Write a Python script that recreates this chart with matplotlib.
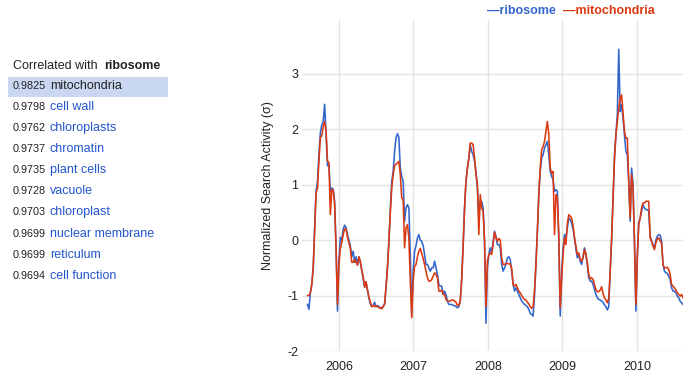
import numpy as np
import pandas as pd
import matplotlib
matplotlib.use('Agg')
import matplotlib.pyplot as plt
from matplotlib.patches import Rectangle

plt.rcParams['font.family'] = ['Liberation Sans', 'DejaVu Sans']

# weekly series, one list per school year (starting 2005-07-31)
ribosome_05 = [-1.16, -1.25, -0.95, -0.8, -0.5, 0.22, 0.88, 1.06, 1.55, 1.94, 2.08, 2.14, 2.45, 1.9,
               1.34, 1.37, 0.88, 0.94, 0.92, 0.7, -0.14, -1.28, -0.35, 0.05, 0.0, 0.2, 0.27, 0.22,
               0.1, 0.0, -0.1, -0.3, -0.2, -0.4, -0.3, -0.45, -0.3, -0.4, -0.55, -0.7, -0.85, -0.75,
               -0.9, -1.05, -1.15, -1.2, -1.18, -1.12, -1.2, -1.18, -1.2, -1.22, -1.22, -1.2, -1.15]
ribosome_06 = [-0.85, -0.5, -0.02, 0.55, 1.06, 1.24, 1.6, 1.84, 1.92, 1.85, 1.3, 1.15, 1.06, 0.34,
               0.58, 0.64, 0.58, -0.26, -1.34, -0.56, -0.2, -0.1, 0.04, 0.1, 0.0, -0.02, -0.1, -0.26,
               -0.44, -0.44, -0.5, -0.56, -0.5, -0.5, -0.38, -0.5, -0.62, -0.8, -0.83, -0.83, -0.98,
               -0.92, -0.98, -1.1, -1.16, -1.16, -1.16, -1.18, -1.18, -1.2, -1.22, -1.2, -1.1]
ribosome_07 = [-0.7, -0.1, 0.58, 1.06, 1.3, 1.48, 1.72, 1.6, 1.54, 1.42, 1.24, 0.94, 0.4, 0.7, 0.7,
               0.58, -0.02, -1.5, -0.5, -0.26, -0.14, -0.23, -0.02, 0.16, 0.07, -0.08, -0.08, -0.14,
               -0.44, -0.56, -0.5, -0.44, -0.32, -0.3, -0.35, -0.56, -0.8, -0.92, -0.86, -0.92, -0.98,
               -1.04, -1.1, -1.13, -1.16, -1.18, -1.2, -1.25, -1.32, -1.34, -1.37]
ribosome_08 = [-1.0, -0.44, 0.16, 0.82, 1.24, 1.48, 1.54, 1.66, 1.72, 1.78, 1.54, 1.24, 1.15, 1.09,
               0.88, 0.91, 0.88, -0.02, -1.37, -0.6, -0.14, 0.1, 0.04, 0.22, 0.4, 0.37, 0.3, 0.2,
               0.04, -0.17, -0.32, -0.26, -0.38, -0.44, -0.29, -0.14, -0.26, -0.44, -0.68, -0.74,
               -0.74, -0.8, -0.89, -0.98, -1.04, -1.07, -1.08, -1.1, -1.12, -1.17]
ribosome_09 = [-1.2, -1.26, -1.2, -0.56, 0.02, 0.73, 1.48, 1.9, 2.27, 3.44, 2.32, 2.44, 2.2, 1.9,
               1.6, 1.54, 1.06, 0.34, 1.3, 1.0, -0.02, -1.28, -0.3, 0.31, 0.4, 0.52, 0.64, 0.58, 0.55,
               0.55, 0.52, 0.07, -0.02, -0.08, -0.14, 0.0, 0.07, 0.1, 0.09, -0.02, -0.44, -0.56,
               -0.59, -0.6, -0.65, -0.71, -0.86, -0.92, -0.92, -0.95, -1.01, -1.04, -1.1, -1.13, -1.16]

mitochondria_05 = [-1.0, -1.0, -0.95, -0.8, -0.5, 0.2, 0.85, 0.94, 1.43, 1.85, 1.88, 2.05, 2.14, 1.97,
                   1.43, 1.4, 0.46, 0.91, 0.9, 0.64, -0.14, -1.16, -0.45, -0.15, -0.05, 0.1, 0.2, 0.2,
                   0.05, -0.05, -0.15, -0.4, -0.4, -0.35, -0.4, -0.45, -0.3, -0.38, -0.55, -0.65, -0.85,
                   -0.75, -0.9, -1.02, -1.12, -1.2, -1.18, -1.2, -1.18, -1.2, -1.22, -1.22, -1.24, -1.2,
                   -1.15]
mitochondria_06 = [-0.85, -0.5, -0.02, 0.5, 0.94, 1.18, 1.34, 1.37, 1.39, 1.42, 1.18, 0.76, 0.73, -0.14,
                   0.22, 0.28, 0.04, -0.74, -1.4, -0.74, -0.47, -0.44, -0.3, -0.2, -0.15, -0.24, -0.33,
                   -0.44, -0.56, -0.68, -0.74, -0.74, -0.71, -0.65, -0.59, -0.62, -0.68, -0.92, -0.92,
                   -0.9, -0.98, -0.98, -1.07, -1.1, -1.1, -1.1, -1.08, -1.08, -1.1, -1.12, -1.18, -1.18,
                   -1.08]
mitochondria_07 = [-0.7, -0.1, 0.58, 1.06, 1.3, 1.48, 1.75, 1.75, 1.72, 1.48, 1.18, 1.0, 0.1, 0.82,
                   0.58, 0.52, -0.02, -1.2, -0.38, -0.26, -0.23, -0.26, -0.08, 0.14, 0.04, -0.02, 0.03,
                   0.0, -0.32, -0.44, -0.44, -0.42, -0.42, -0.43, -0.43, -0.5, -0.8, -0.83, -0.8, -0.86,
                   -0.92, -0.95, -1.0, -1.04, -1.07, -1.08, -1.12, -1.15, -1.2, -1.23, -1.2]
mitochondria_08 = [-0.9, -0.44, 0.16, 0.82, 1.3, 1.63, 1.69, 1.78, 1.96, 2.14, 1.9, 1.3, 1.21, 1.24,
                   0.1, 0.82, 0.76, 0.1, -1.22, -0.7, -0.26, 0.04, -0.08, 0.3, 0.46, 0.43, 0.4, 0.26,
                   0.04, -0.11, -0.26, -0.23, -0.35, -0.38, -0.32, -0.17, -0.26, -0.41, -0.62, -0.7,
                   -0.68, -0.71, -0.8, -0.89, -0.93, -0.93, -0.9, -0.84, -0.97, -1.04]
mitochondria_09 = [-1.08, -1.13, -1.05, -0.56, 0.02, 0.73, 1.48, 1.9, 2.14, 2.38, 2.56, 2.62, 2.3,
                   1.96, 1.84, 1.84, 1.06, 0.4, 1.18, 0.94, -0.02, -1.16, -0.3, 0.28, 0.4, 0.58, 0.67,
                   0.67, 0.7, 0.7, 0.7, 0.04, -0.02, -0.11, -0.17, -0.05, 0.02, 0.04, -0.02, -0.05,
                   -0.44, -0.5, -0.5, -0.49, -0.53, -0.62, -0.8, -0.83, -0.86, -0.9, -0.95, -0.98,
                   -1.01, -0.98, -1.04]

correlated = ['mitochondria', 'cell wall', 'chloroplasts', 'chromatin', 'plant cells',
              'vacuole', 'chloroplast', 'nuclear membrane', 'reticulum', 'cell function']
corr_values = [0.9825, 0.9798, 0.9762, 0.9737, 0.9735, 0.9728, 0.9703, 0.9699, 0.9699, 0.9694]
year_ticks = ['2006', '2007', '2008', '2009', '2010']

ribosome = np.array(ribosome_05 + ribosome_06 + ribosome_07 + ribosome_08 + ribosome_09)
mitochondria = np.array(mitochondria_05 + mitochondria_06 + mitochondria_07 + mitochondria_08 + mitochondria_09)
dates = pd.date_range('2005-07-31', periods=len(ribosome), freq='W-SUN')

blue = '#3366cc'
red = '#dc3912'
link = '#2255cc'
W, H = 694, 378

fig = plt.figure(figsize=(W / 100, H / 100), dpi=100)
ax = fig.add_axes([302 / W, 1 - 351 / H, (683 - 302) / W, (351 - 20) / H])

ax.plot(dates, ribosome, color=blue, lw=1.15, zorder=3)
ax.plot(dates, mitochondria, color=red, lw=1.15, zorder=4)

ax.set_xlim(pd.Timestamp('2005-07-04'), pd.Timestamp('2010-08-15'))
ax.set_ylim(-2, 3.97)
ax.set_yticks([-2, -1, 0, 1, 2, 3])
ax.set_yticklabels(['-2', '-1', '0', '1', '2', '3'])
ax.set_xticks([pd.Timestamp(y + '-01-01') for y in year_ticks])
ax.set_xticklabels(year_ticks)
ax.grid(True, color='#e3e3e3', lw=1)
ax.set_axisbelow(True)
for s in ax.spines.values():
    s.set_visible(False)
ax.tick_params(length=0, labelsize=9, colors='#222222', pad=7)
ax.tick_params(axis='y', pad=2.5)

fig.text(268 / W, 1 - 186 / H, u'Normalized Search Activity (\u03c3)', rotation=90,
         ha='center', va='center', fontsize=9, color='#222222')

# legend on top
fig.text(487 / W, 1 - 11 / H, u'\u2014ribosome', color=blue, fontsize=9,
         fontweight='bold', va='center', ha='left')
fig.text(563 / W, 1 - 11 / H, u'\u2014mitochondria', color=red, fontsize=9,
         fontweight='bold', va='center', ha='left')

# left list of correlated terms
fig.text(13 / W, 1 - 66 / H, 'Correlated with', fontsize=9, color='#222222', va='center')
fig.text(104 / W, 1 - 66 / H, 'ribosome', fontsize=9, color='#222222', va='center',
         fontweight='bold')
fig.patches.append(Rectangle((8 / W, 1 - 97 / H), 160 / W, 20 / H, transform=fig.transFigure,
                             facecolor='#c9d7f1', edgecolor='none', zorder=0))
for k, (name, val) in enumerate(zip(correlated, corr_values)):
    y = 1 - (86 + 21.08 * k) / H
    fig.text(13 / W, y, '%.4f' % val, fontsize=7.8, color='#222222', va='center')
    fig.text(50 / W, y, name, fontsize=9, color='#222222' if k == 0 else link, va='center')

plt.savefig('out.png', dpi=100)
plt.close(fig)
